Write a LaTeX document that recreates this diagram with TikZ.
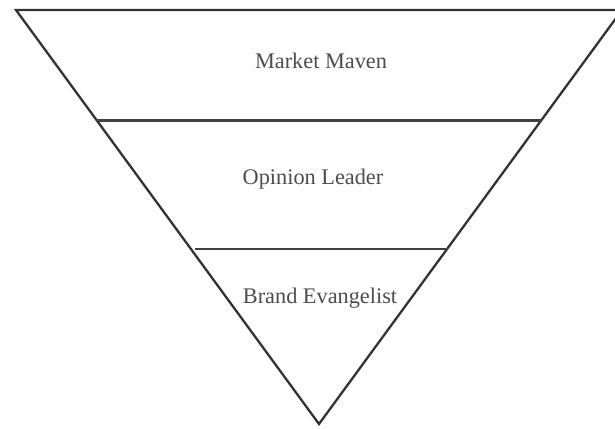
\documentclass[tikz,border=0pt]{standalone}
\usepackage{fontspec}
\setmainfont{Liberation Serif}
\begin{document}
\begin{tikzpicture}[x=1pt,y=-1pt,
  edge/.style={draw=black!80,line width=2.3pt,line join=miter},
  tier/.style={draw=black!75,line width=2.3pt},
  label/.style={text=black!70,font=\fontsize{22.3}{26}\selectfont,inner sep=0pt,anchor=center}]
  \useasboundingbox (0,0) rectangle (615,428);
  \clip (0,0) rectangle (615,428);
  % outline of the inverted triangle
  \coordinate (tl) at (16,10);
  \coordinate (tr) at (622,10);
  \coordinate (apex) at (319,424);
  \draw[edge] (tr) -- (tl) -- (apex) -- cycle;
  % dividing lines between the tiers
  \coordinate (m1l) at (96,120.5);
  \coordinate (m1r) at (542,120.5);
  \coordinate (m2l) at (195,249);
  \coordinate (m2r) at (448,249);
  \draw[tier] (m1l) -- (m1r);
  \draw[tier] (m2l) -- (m2r);
  % tier labels
  \node[label] (maven) at (321,61) {Market Maven};
  \node[label] (leader) at (313,179) {Opinion Leader};
  \node[label] (evangelist) at (320,298) {Brand Evangelist};
\end{tikzpicture}
\end{document}
